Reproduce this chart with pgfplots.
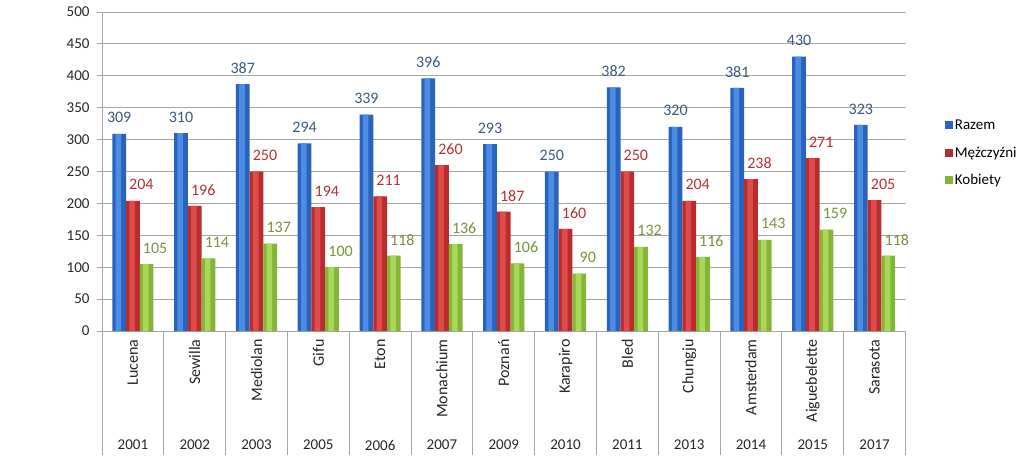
\documentclass[border=0pt]{standalone}
\usepackage{fontspec}
\setmainfont{Carlito}
\usepackage{pgfplots}
\pgfplotsset{compat=1.18}

\definecolor{bluebase}{HTML}{2A63BE}
\definecolor{bluelight}{HTML}{4C8CE2}
\definecolor{redbase}{HTML}{BA2C2C}
\definecolor{redlight}{HTML}{DE4B4B}
\definecolor{greenbase}{HTML}{84B538}
\definecolor{greenlight}{HTML}{A9D858}
\definecolor{bluetxt}{HTML}{3B5A82}
\definecolor{redtxt}{HTML}{B83030}
\definecolor{greentxt}{HTML}{77933C}
\definecolor{gridc}{HTML}{A6A6A6}

\newcommand{\fs}{\fontsize{15}{18}\selectfont}
\newcommand{\fl}{\fontsize{16}{19}\selectfont}

\begin{document}
\begin{tikzpicture}
\path[use as bounding box] (0,0) rectangle (1024pt,463pt);
\begin{axis}[
  at={(102pt,132pt)}, anchor=south west,
  scale only axis, width=803.5pt, height=319pt,
  ybar=0pt,
  xmin=-0.5, xmax=12.5, ymin=0, ymax=500,
  enlarge x limits=false,
  clip=false,
  axis lines*=left,
  axis line style={gridc, line width=1pt},
  ytick={0,50,...,500},
  ymajorgrids, grid style={gridc, line width=1pt},
  tick align=outside, major tick length=5pt,
  ytick style={gridc, line width=1pt},
  xtick={0,...,12}, xtick style={draw=none},
  xticklabels={Lucena,Sewilla,Mediolan,Gifu,Eton,Monachium,Poznań,Karapiro,Bled,Chungju,Amsterdam,Aiguebelette,Sarasota},
  xticklabel style={rotate=90, anchor=east, font=\fl, text=black!85},
  yticklabel style={font=\fs, text=black!85, xshift=-4pt},
  /pgf/number format/assume math mode=true,
  every node near coord/.append style={font=\fl, anchor=center, yshift=16pt},
  legend style={at={(1.045,0.558)}, anchor=west, draw=none, fill=none,
    font=\fs, row sep=12pt, /tikz/every even column/.append style={column sep=2pt}},
  legend cell align=left,
  legend image code/.code={\path[#1] (0pt,-4pt) rectangle (8pt,4pt);},
]
% base bars
\addplot[draw=none, fill=bluebase, bar width=0.222, bar shift=-0.222,
  nodes near coords, every node near coord/.append style={text=bluetxt}]
  coordinates {(0,309) (1,310) (2,387) (3,294) (4,339) (5,396) (6,293) (7,250) (8,382) (9,320) (10,381) (11,430) (12,323)};
\addlegendentry{Razem}
\addplot[draw=none, fill=redbase, bar width=0.222, bar shift=0,
  nodes near coords, every node near coord/.append style={text=redtxt, xshift=8.5pt}]
  coordinates {(0,204) (1,196) (2,250) (3,194) (4,211) (5,260) (6,187) (7,160) (8,250) (9,204) (10,238) (11,271) (12,205)};
\addlegendentry{Mężczyźni}
\addplot[draw=none, fill=greenbase, bar width=0.222, bar shift=0.222,
  nodes near coords, every node near coord/.append style={text=greentxt, xshift=8.5pt}]
  coordinates {(0,105) (1,114) (2,137) (3,100) (4,118) (5,136) (6,106) (7,90) (8,132) (9,116) (10,143) (11,159) (12,118)};
\addlegendentry{Kobiety}
% highlights
\addplot[forget plot, draw=none, fill=bluelight, bar width=0.09, bar shift=-0.235]
  coordinates {(0,309) (1,310) (2,387) (3,294) (4,339) (5,396) (6,293) (7,250) (8,382) (9,320) (10,381) (11,430) (12,323)};
\addplot[forget plot, draw=none, fill=redlight, bar width=0.09, bar shift=-0.013]
  coordinates {(0,204) (1,196) (2,250) (3,194) (4,211) (5,260) (6,187) (7,160) (8,250) (9,204) (10,238) (11,271) (12,205)};
\addplot[forget plot, draw=none, fill=greenlight, bar width=0.09, bar shift=0.209]
  coordinates {(0,105) (1,114) (2,137) (3,100) (4,118) (5,136) (6,106) (7,90) (8,132) (9,116) (10,143) (11,159) (12,118)};

% table lines below the axis
\pgfplotsinvokeforeach{-0.5,0.5,1.5,2.5,3.5,4.5,5.5,6.5,7.5,8.5,9.5,10.5,11.5,12.5}{
  \draw[gridc, line width=1pt] (axis cs:#1,0) -- ++(0pt,-124pt);
}
% years
\node[font=\fs, text=black!85] at ([yshift=-114pt]axis cs:0,0) {2001};
\node[font=\fs, text=black!85] at ([yshift=-114pt]axis cs:1,0) {2002};
\node[font=\fs, text=black!85] at ([yshift=-114pt]axis cs:2,0) {2003};
\node[font=\fs, text=black!85] at ([yshift=-114pt]axis cs:3,0) {2005};
\node[font=\fs, text=black!85] at ([yshift=-114pt]axis cs:4,0) {2006};
\node[font=\fs, text=black!85] at ([yshift=-114pt]axis cs:5,0) {2007};
\node[font=\fs, text=black!85] at ([yshift=-114pt]axis cs:6,0) {2009};
\node[font=\fs, text=black!85] at ([yshift=-114pt]axis cs:7,0) {2010};
\node[font=\fs, text=black!85] at ([yshift=-114pt]axis cs:8,0) {2011};
\node[font=\fs, text=black!85] at ([yshift=-114pt]axis cs:9,0) {2013};
\node[font=\fs, text=black!85] at ([yshift=-114pt]axis cs:10,0) {2014};
\node[font=\fs, text=black!85] at ([yshift=-114pt]axis cs:11,0) {2015};
\node[font=\fs, text=black!85] at ([yshift=-114pt]axis cs:12,0) {2017};
\end{axis}
\end{tikzpicture}
\end{document}
